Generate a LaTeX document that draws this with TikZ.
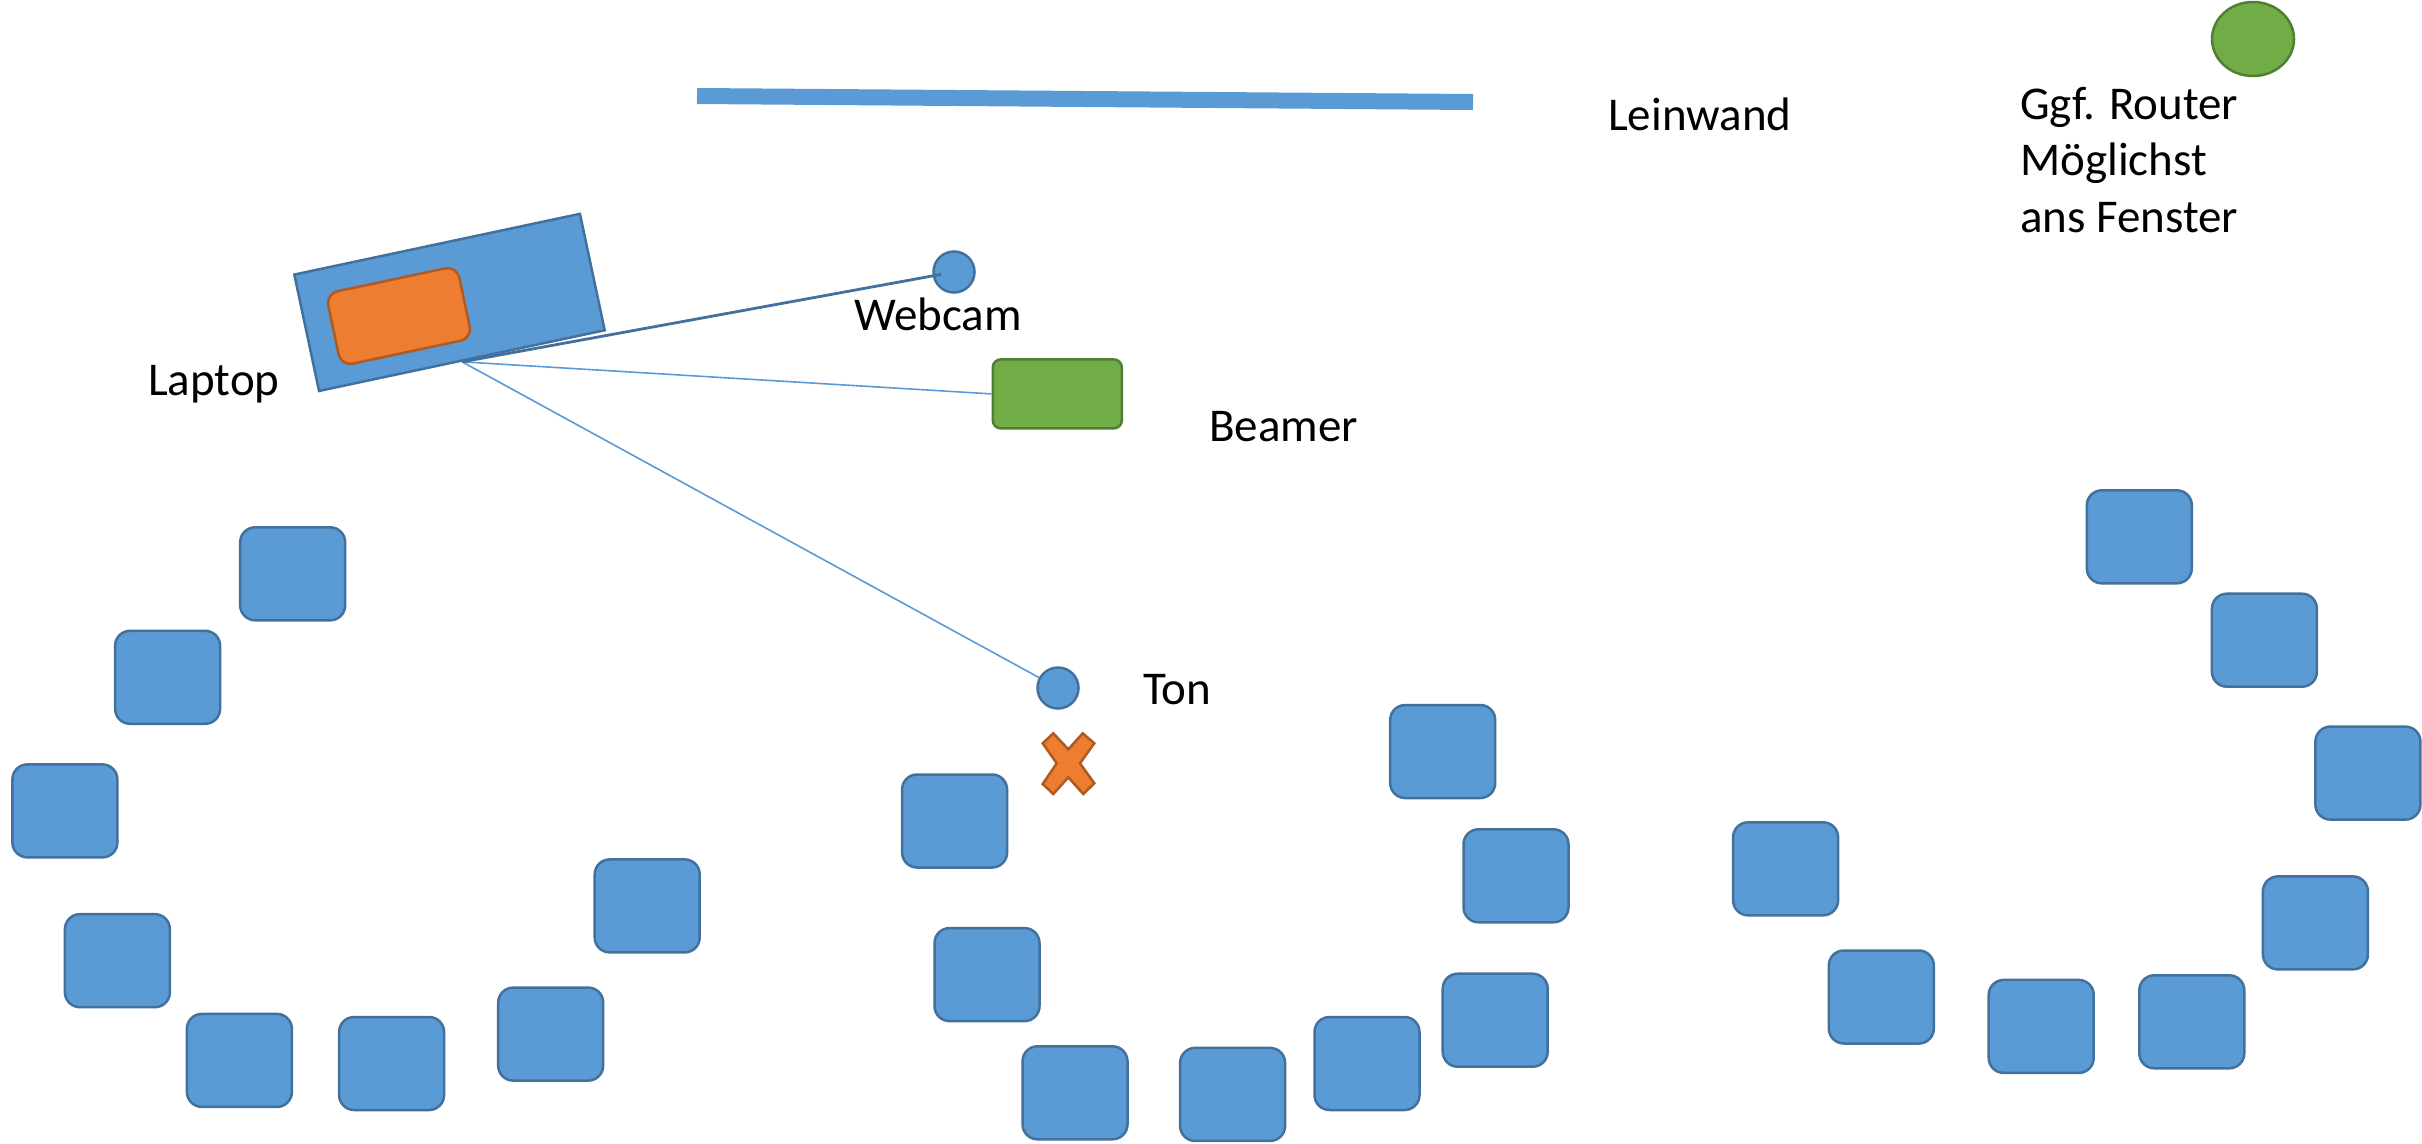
\documentclass[tikz,border=0pt]{standalone}
\usepackage{fontspec}
\setmainfont{Carlito}
\usetikzlibrary{shapes.geometric}
\definecolor{bfill}{HTML}{5B9BD5}
\definecolor{bline}{HTML}{41719C}
\definecolor{ofill}{HTML}{ED7D31}
\definecolor{oline}{HTML}{AE5A21}
\definecolor{gfill}{HTML}{70AD47}
\definecolor{gline}{HTML}{507E32}
\tikzset{
  chair/.style={rectangle, rounded corners=15pt, minimum width=105pt, minimum height=93pt,
    inner sep=0pt, fill=bfill, draw=bline, line width=2.5pt},
  dot/.style={circle, minimum size=41pt, inner sep=0pt, fill=bfill, draw=bline, line width=2.5pt},
  lbl/.style={inner sep=0pt, font=\fontsize{47pt}{56.5pt}\selectfont, text=black},
  thinline/.style={draw=bfill, line width=1.6pt},
}
\begin{document}
\begin{tikzpicture}[x=1pt,y=-1pt]
\useasboundingbox[fill=white] (0,0) rectangle (2422,1143);

% screen
\coordinate (lw1) at (697,96);
\coordinate (lw2) at (1473,102);
\draw[bfill, line width=16pt] (lw1) -- (lw2);

% laptop
\node[rectangle, rotate=12, minimum width=292pt, minimum height=119pt, inner sep=0pt,
      fill=bfill, draw=bline, line width=2.5pt] (laptop) at (449.5,302.4) {};
\node[rectangle, rotate=12, rounded corners=12pt, minimum width=134pt, minimum height=74pt,
      inner sep=0pt, fill=ofill, draw=oline, line width=2.5pt] (screen) at (399,316) {};

% devices
\node[dot] (webcam) at (954,272) {};
\node[dot] (ton) at (1058,688) {};
\node[rectangle, rounded corners=8pt, minimum width=129pt, minimum height=69pt, inner sep=0pt,
      fill=gfill, draw=gline, line width=2.5pt] (beamer) at (1057.3,393.9) {};
\node[ellipse, minimum width=82pt, minimum height=74pt, inner sep=0pt,
      fill=gfill, draw=gline, line width=2.5pt] (router) at (2253,39) {};

% connectors
\draw[thinline] (laptop.south) -- (beamer.west);
\draw[thinline] (laptop.south) -- (ton);
\draw[draw=bline, line width=2.8pt, shorten >=13pt] (laptop.south) -- (webcam.center);

% position cross
\coordinate (xm) at (1068.3,763.3);
\draw[fill=ofill, draw=oline, line width=2.5pt, shift={(xm)}]
  (-15,-30) -- (0,-14) -- (14.4,-30) -- (26,-20) -- (11.7,0) -- (26,20) -- (15,30.7)
  -- (0,14) -- (-15,30.7) -- (-25.6,20.7) -- (-11.6,0) -- (-25.6,-20) -- cycle;

% labels
\node[lbl, anchor=base west] (tLeinwand) at (1608,130) {Leinwand};
\node[lbl, anchor=north west, align=left] (tRouter) at (2020,87) {Ggf. Router\\Möglichst\\ans Fenster};
\node[lbl, anchor=base west] (tWebcam) at (854,330.5) {Webcam};
\node[lbl, anchor=base west] (tLaptop) at (148,395) {Laptop};
\node[lbl, anchor=base west] (tBeamer) at (1209,441.8) {Beamer};
\node[lbl, anchor=base west] (tTon) at (1143,704) {Ton};

% chairs
\node[chair] (c1) at (292.7,573.8) {};
\node[chair] (c2) at (167.6,677.3) {};
\node[chair] (c3) at (64.9,810.9) {};
\node[chair] (c4) at (117.4,960.7) {};
\node[chair] (c5) at (239.4,1060.4) {};
\node[chair] (c6) at (391.6,1063.5) {};
\node[chair] (c7) at (550.7,1034.1) {};
\node[chair] (c8) at (647.2,905.9) {};
\node[chair] (c9) at (954.6,821.0) {};
\node[chair] (c10) at (987.0,974.6) {};
\node[chair] (c11) at (1075.0,1092.8) {};
\node[chair] (c12) at (1232.6,1094.4) {};
\node[chair] (c13) at (1367.0,1063.5) {};
\node[chair] (c14) at (1495.2,1020.2) {};
\node[chair] (c15) at (1516.0,875.8) {};
\node[chair] (c16) at (1442.7,751.5) {};
\node[chair] (c17) at (1785.6,868.8) {};
\node[chair] (c18) at (1881.3,997.0) {};
\node[chair] (c19) at (2041.2,1026.4) {};
\node[chair] (c20) at (2191.8,1021.8) {};
\node[chair] (c21) at (2315.4,922.9) {};
\node[chair] (c22) at (2367.9,773.1) {};
\node[chair] (c23) at (2264.4,640.2) {};
\node[chair] (c24) at (2139.3,536.8) {};
\end{tikzpicture}
\end{document}
